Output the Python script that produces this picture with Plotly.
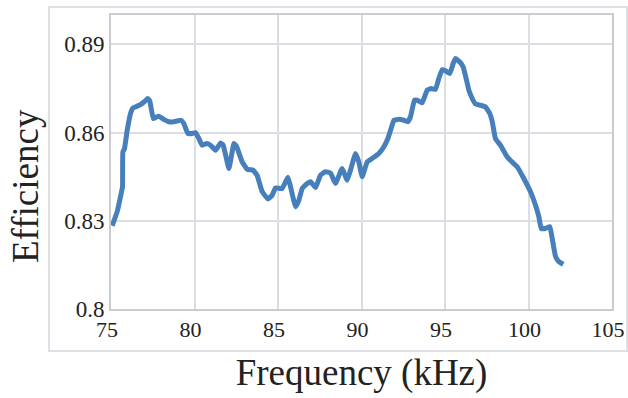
import plotly.graph_objects as go

freq_khz = [75.07, 75.37, 75.61, 75.69, 75.71, 75.81, 75.97, 76.17, 76.31, 76.57, 76.81, 76.97,
            77.2, 77.32, 77.53, 77.66, 77.86, 78.16, 78.46, 78.76, 79.0, 79.2, 79.36, 79.6,
            79.86, 80.06, 80.26, 80.46, 80.72, 80.96, 81.26, 81.56, 81.72, 82.06, 82.36, 82.51,
            82.86, 83.16, 83.51, 83.75, 84.05, 84.41, 84.65, 84.85, 85.25, 85.59, 85.75, 86.05,
            86.25, 86.45, 86.75, 86.95, 87.25, 87.54, 87.84, 88.14, 88.44, 88.84, 89.14, 89.34,
            89.64, 89.84, 90.04, 90.34, 90.64, 91.04, 91.34, 91.58, 91.74, 91.94, 92.24, 92.53,
            92.77, 92.93, 93.17, 93.34, 93.63, 93.93, 94.17, 94.43, 94.63, 94.83, 95.03, 95.29,
            95.49, 95.63, 95.89, 96.09, 96.29, 96.43, 96.63, 96.83, 97.13, 97.43, 97.68, 97.83,
            98.02, 98.32, 98.72, 99.02, 99.32, 99.72, 100.12, 100.42, 100.62, 100.76, 101.02,
            101.28, 101.42, 101.62, 101.82, 102.08]
efficiency = [0.8283, 0.8331, 0.8393, 0.8416, 0.8534, 0.8546, 0.8608, 0.8665, 0.8684, 0.869, 0.8697, 0.8704,
              0.8716, 0.8708, 0.8648, 0.8651, 0.8656, 0.8645, 0.8637, 0.8637, 0.864, 0.8642, 0.8631, 0.8597,
              0.8597, 0.86, 0.858, 0.8557, 0.8563, 0.8557, 0.854, 0.8565, 0.8557, 0.8478, 0.8563, 0.8554,
              0.85, 0.8475, 0.8472, 0.8455, 0.8399, 0.8374, 0.8387, 0.8412, 0.841, 0.8448, 0.8416, 0.8348,
              0.837, 0.841, 0.8427, 0.8433, 0.8413, 0.8455, 0.8467, 0.8463, 0.8427, 0.8478, 0.8438, 0.8472,
              0.8529, 0.85, 0.845, 0.85, 0.8512, 0.8529, 0.8552, 0.858, 0.8608, 0.8642, 0.8645, 0.8642,
              0.8637, 0.8653, 0.871, 0.871, 0.8701, 0.8744, 0.875, 0.8747, 0.8784, 0.8814, 0.881, 0.8801,
              0.8835, 0.8852, 0.884, 0.8823, 0.8778, 0.8744, 0.8716, 0.8697, 0.8693, 0.8687, 0.8665, 0.8637,
              0.858, 0.8557, 0.8518, 0.85, 0.8484, 0.8444, 0.8399, 0.8353, 0.8314, 0.8274, 0.8274,
              0.828, 0.824, 0.8178, 0.8161, 0.8152]

x_ticks = [75, 80, 85, 90, 95, 100, 105]
y_ticks = [0.8, 0.83, 0.86, 0.89]
y_tick_labels = ["0.8", "0.83", "0.86", "0.89"]

font_family = "Liberation Serif"
grid_color = "#dcdde2"
axis_color = "#c9ccd3"

fig = go.Figure()
fig.add_trace(go.Scatter(
    x=freq_khz, y=efficiency, mode="lines",
    line=dict(color="#477fbc", width=5, shape="spline", smoothing=0.3),
    showlegend=False,
))

fig.update_layout(
    width=628, height=398,
    margin=dict(l=111, r=16, t=15, b=89),
    paper_bgcolor="white", plot_bgcolor="white",
    font=dict(family=font_family, size=22, color="#222222"),
    xaxis=dict(
        range=[75, 105], tickvals=x_ticks, ticktext=[str(v) for v in x_ticks],
        showgrid=True, gridcolor=grid_color, gridwidth=1.5,
        showline=True, linecolor=axis_color, linewidth=2, mirror=True,
        ticks="", zeroline=False, ticklabeloverflow="allow", automargin=False,
        ticklabelshift=-4,
        tickfont=dict(size=22),
        title=dict(text="Frequency (kHz)", font=dict(size=37), standoff=18),
    ),
    yaxis=dict(
        range=[0.8, 0.9], tickvals=y_ticks, ticktext=y_tick_labels,
        showgrid=True, gridcolor=grid_color, gridwidth=1.5,
        showline=True, linecolor=axis_color, linewidth=2, mirror=True,
        ticks="", zeroline=False, automargin=False,
        tickfont=dict(size=23),
    ),
    annotations=[dict(
        text="Efficiency", textangle=-90, showarrow=False,
        xref="paper", yref="paper", x=(25 - 111) / 501, y=(309 - 186) / 294,
        xanchor="center", yanchor="middle", font=dict(size=37),
    )],
    shapes=[dict(
        type="rect", xref="paper", yref="paper",
        x0=(49 - 111) / 501, x1=(627 - 111) / 501,
        y0=(309 - 351) / 294, y1=(309 - 7) / 294,
        line=dict(color="#dde0e5", width=2), fillcolor="rgba(0,0,0,0)", layer="below",
    )],
)

fig.write_html("out.html")
